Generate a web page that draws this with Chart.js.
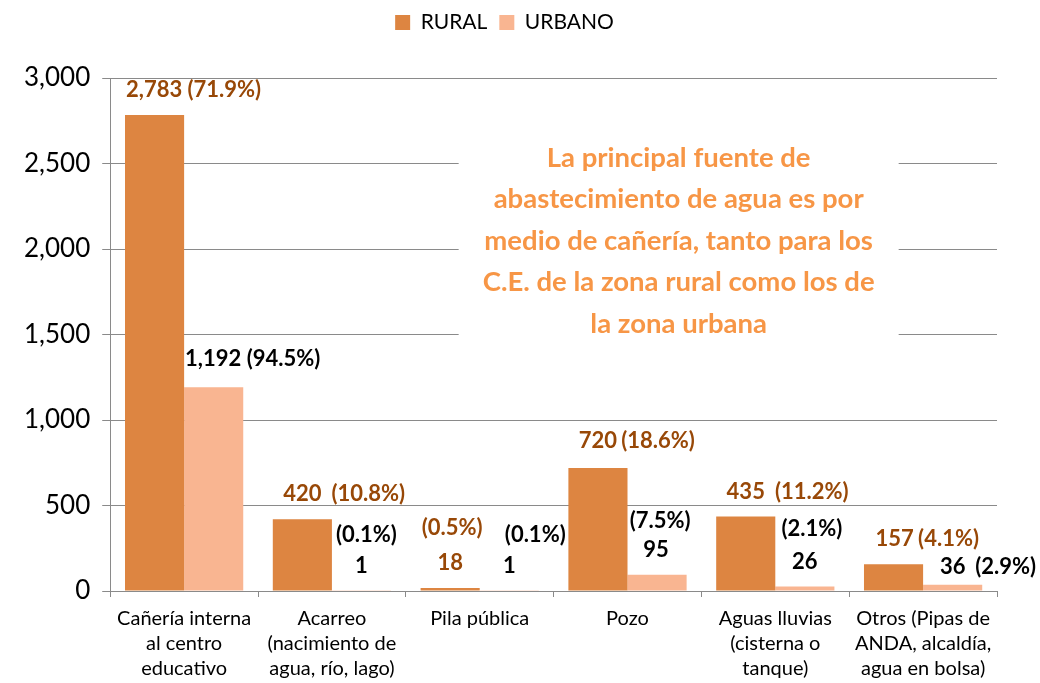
<!DOCTYPE html>
<html>
<head>
<meta charset="utf-8">
<script src="https://cdn.jsdelivr.net/npm/chart.js@4.4.0/dist/chart.umd.min.js"></script>
<style>
  html, body { margin: 0; padding: 0; background: #fff; }
  #wrap { width: 1040px; height: 683px; }
</style>
</head>
<body>
<div id="wrap"><canvas id="chart_Agua"></canvas></div>
<script>
var categories = [
  ["Cañería interna", "al centro", "educativo"],
  ["Acarreo", "(nacimiento de", "agua, río, lago)"],
  ["Pila pública"],
  ["Pozo"],
  ["Aguas lluvias", "(cisterna o", "tanque)"],
  ["Otros (Pipas de", "ANDA, alcaldía,", "agua en bolsa)"]
];
var rural = [2783, 420, 18, 720, 435, 157];
var urbano = [1192, 1, 1, 95, 26, 36];
var ruralPct = ["71.9%", "10.8%", "0.5%", "18.6%", "11.2%", "4.1%"];
var urbanoPct = ["94.5%", "0.1%", "0.1%", "7.5%", "2.1%", "2.9%"];
var yTicks = [0, 500, 1000, 1500, 2000, 2500, 3000];
var nota = [
  "La principal fuente de",
  "abastecimiento de agua es por",
  "medio de cañería, tanto para los",
  "C.E. de la zona rural como los de",
  "la zona urbana"
];

var FONT = "Lato, 'Open Sans', sans-serif";

function fmt(v) {
  return v.toLocaleString('en-US');
}

// how the labels sit around each bar (hand placed in the original)
// n = number, p = percent, np = both; offsets from the top centre of the bar
var ruralLayout = [
  [{k: "np", dx: 39, dy: -25}],
  [{k: "n", dx: 0, dy: -25}, {k: "p", dx: 66, dy: -25}],
  [{k: "p", dx: 2, dy: -60}, {k: "n", dx: 0, dy: -25}],
  [{k: "n", dx: 0, dy: -27}, {k: "p", dx: 60, dy: -27}],
  [{k: "n", dx: 0, dy: -25}, {k: "p", dx: 66, dy: -25}],
  [{k: "n", dx: 1, dy: -25}, {k: "p", dx: 55, dy: -25}]
];
var urbanoLayout = [
  [{k: "np", dx: 39, dy: -28}],
  [{k: "p", dx: 5, dy: -56}, {k: "n", dx: 0, dy: -25}],
  [{k: "p", dx: 26, dy: -56}, {k: "n", dx: 0, dy: -25}],
  [{k: "p", dx: 3, dy: -54}, {k: "n", dx: -1, dy: -25}],
  [{k: "p", dx: 7, dy: -58}, {k: "n", dx: 0, dy: -25}],
  [{k: "n", dx: 0, dy: -18}, {k: "p", dx: 53, dy: -18}]
];

var legendGap = {
  id: 'legendGap',
  beforeInit: function (chart) {
    var fit = chart.legend.fit;
    chart.legend.fit = function () {
      fit.bind(chart.legend)();
      this.height += 35;
    };
  }
};

var notaPlugin = {
  id: 'nota',
  beforeDatasetsDraw: function (chart) {
    var ctx = chart.ctx;
    var x = chart.scales.x;
    var y = chart.scales.y;
    var cx = x.left + (x.right - x.left) * 0.641;
    var top = y.getPixelForValue(2700);
    var bottom = y.getPixelForValue(1430);
    ctx.save();
    ctx.fillStyle = "#ffffff";
    ctx.fillRect(cx - 220, top, 440, bottom - top);
    ctx.fillStyle = "#F79646";
    ctx.font = "bold 27.5px " + FONT;
    ctx.textAlign = "center";
    ctx.textBaseline = "middle";
    var y0 = y.getPixelForValue(2533);
    for (var i = 0; i < nota.length; i++) {
      ctx.fillText(nota[i], cx, y0 + i * 41.5);
    }
    ctx.restore();
  }
};

var labelPlugin = {
  id: 'valores',
  afterDatasetsDraw: function (chart) {
    var ctx = chart.ctx;
    ctx.save();
    ctx.font = "bold 22px " + FONT;
    ctx.textAlign = "center";
    ctx.textBaseline = "middle";
    var sets = [
      {vals: rural, pct: ruralPct, lay: ruralLayout, color: "#984807"},
      {vals: urbano, pct: urbanoPct, lay: urbanoLayout, color: "#000000"}
    ];
    for (var d = 0; d < sets.length; d++) {
      var meta = chart.getDatasetMeta(d);
      ctx.fillStyle = sets[d].color;
      for (var i = 0; i < meta.data.length; i++) {
        var bar = meta.data[i];
        var parts = sets[d].lay[i];
        for (var j = 0; j < parts.length; j++) {
          var p = parts[j];
          var txt;
          if (p.k == "n") txt = fmt(sets[d].vals[i]);
          else if (p.k == "p") txt = "(" + sets[d].pct[i] + ")";
          else txt = fmt(sets[d].vals[i]) + " (" + sets[d].pct[i] + ")";
          ctx.fillText(txt, bar.x + p.dx, bar.y + p.dy);
        }
      }
    }
    ctx.restore();
  }
};

new Chart(document.getElementById("chart_Agua"), {
  type: 'bar',
  data: {
    labels: categories,
    datasets: [{
      label: "RURAL",
      backgroundColor: "#DD8541",
      data: rural,
      categoryPercentage: 0.8,
      barPercentage: 1.0
    }, {
      label: "URBANO",
      backgroundColor: "#F9B591",
      data: urbano,
      categoryPercentage: 0.8,
      barPercentage: 1.0
    }]
  },
  options: {
    responsive: true,
    maintainAspectRatio: false,
    animation: false,
    layout: {
      padding: {left: 12, right: 43, top: 0, bottom: -7}
    },
    plugins: {
      legend: {
        position: 'top',
        labels: {
          color: "#000",
          font: {family: FONT, size: 21},
          boxWidth: 15,
          boxHeight: 15,
          padding: 12
        }
      },
      tooltip: {enabled: false}
    },
    scales: {
      x: {
        grid: {
          display: true,
          drawOnChartArea: false,
          drawTicks: true,
          tickLength: 6,
          color: "#8a8a8a",
          offset: true
        },
        border: {display: true, color: "#8a8a8a"},
        ticks: {
          color: "#000",
          font: {family: FONT, size: 20, lineHeight: 1.25},
          maxRotation: 0,
          autoSkip: false,
          padding: 9
        }
      },
      y: {
        min: 0,
        max: 3000,
        afterBuildTicks: function (axis) {
          axis.ticks = yTicks.map(function (v) { return {value: v}; });
        },
        grid: {
          color: "#8a8a8a",
          tickLength: 8
        },
        border: {display: true, color: "#8a8a8a"},
        ticks: {
          color: "#000",
          font: {family: FONT, size: 26},
          padding: 12,
          callback: function (v) { return fmt(v); }
        }
      }
    }
  },
  plugins: [legendGap, notaPlugin, labelPlugin]
});
</script>
</body>
</html>
